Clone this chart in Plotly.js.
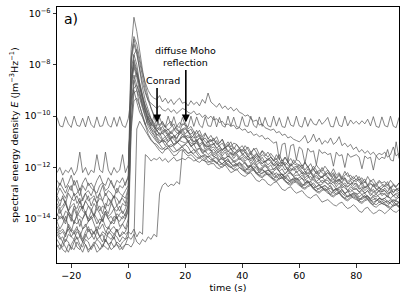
<!DOCTYPE html>
<html>
<head>
<meta charset="utf-8">
<script src="https://cdn.plot.ly/plotly-3.0.1.min.js"></script>
<style>html,body{margin:0;padding:0;background:#fff;}#chart{width:407px;height:299px;}</style>
</head>
<body>
<div id="chart"></div>
<script>
// time axis (s)
const time = [-25,-24,-23,-22,-21,-20,-19,-18,-17,-16,-15,-14,-13,-12,-11,-10,-9,-8,-7,-6,-5,-4,-3,-2,-1,
0,1,2,3,4,5,6,7,8,9,
10,11,12,13,14,15,16,17,18,19,
20,21,22,23,24,25,26,27,28,29,
30,31,32,33,34,35,36,37,38,39,
40,41,42,43,44,45,46,47,48,49,
50,51,52,53,54,55,56,57,58,59,
60,61,62,63,64,65,66,67,68,69,
70,71,72,73,74,75,76,77,78,79,
80,81,82,83,84,85,86,87,88,89,
90,91,92,93,94,95];

// log10 of spectral energy density E, one array per station
const logE_osc = [-10.05,-10.38,-10.42,-10.02,-10.30,-10.44,-10.00,-10.36,-10.40,-10.08,-10.42,-10.00,-10.33,-10.45,-10.03,-10.40,-10.38,-10.01,-10.35,-10.43,-10.05,-10.40,-10.02,-10.37,-10.44,
-10.10,-9.30,-9.00,-9.45,-9.85,-10.05,-10.35,-10.02,-10.38,-10.00,
-10.40,-10.05,-10.35,-10.42,-10.00,-10.38,-10.02,-10.40,-10.44,-10.05,
-10.36,-10.41,-10.00,-10.40,-10.03,-10.35,-10.45,-10.02,-10.38,-10.40,
-10.01,-10.42,-10.05,-10.37,-10.43,-10.00,-10.39,-10.04,-10.41,-10.44,
-10.02,-10.38,-10.40,-10.00,-10.36,-10.45,-10.03,-10.40,-10.05,-10.37,
-10.42,-10.00,-10.39,-10.06,-10.41,-10.44,-10.02,-10.35,-10.40,-10.00,
-10.38,-10.43,-10.04,-10.40,-10.10,-10.30,-10.35,-10.12,-10.32,-10.20,
-10.05,-10.40,-10.42,-10.02,-10.36,-10.41,-10.00,-10.38,-10.15,-10.30,
-10.20,-10.32,-10.18,-10.30,-10.12,-10.38,-10.02,-10.40,-10.44,-10.03,
-10.37,-10.42,-10.00,-10.39,-10.45,-10.05];

const logE_s01 = [-13.2,-13.5,-13.1,-13.4,-13.7,-13.3,-13.0,-13.4,-13.2,-13.6,-13.3,-13.1,-13.5,-13.2,-13.4,-13.0,-13.3,-13.6,-13.2,-13.4,-13.1,-13.5,-13.3,-13.2,-13.4,
-12.9,-7.4,-6.15,-6.7,-7.5,-8.2,-8.8,-9.3,-9.7,-10.0,
-10.2,-10.4,-10.25,-10.42,-10.55,-10.43,-10.3,-10.55,-10.6,-10.3,
-10.35,-10.6,-10.5,-10.75,-10.55,-10.8,-10.95,-10.7,-10.85,-11.0,
-10.85,-11.1,-11.05,-10.9,-11.2,-11.15,-11.0,-11.3,-11.1,-11.25,
-11.35,-11.15,-11.3,-11.5,-11.25,-11.45,-11.6,-11.35,-11.55,-11.4,
-11.6,-11.75,-11.5,-11.7,-11.85,-11.6,-11.8,-11.95,-11.7,-11.85,
-11.9,-12.05,-11.8,-12.0,-12.15,-11.95,-12.1,-12.25,-12.0,-12.2,
-12.1,-12.3,-12.2,-12.4,-12.25,-12.45,-12.3,-12.2,-12.45,-12.35,
-12.5,-12.35,-12.55,-12.45,-12.7,-12.5,-12.6,-12.75,-12.55,-12.65,
-12.7,-12.55,-12.8,-12.65,-12.75,-12.6];

const logE_s02 = [-12.9,-12.6,-12.8,-13.0,-12.7,-12.9,-12.5,-12.8,-13.1,-12.7,-12.9,-12.6,-12.8,-12.9,-13.0,-12.7,-12.6,-12.9,-12.8,-12.5,-12.8,-13.0,-12.7,-12.8,-12.6,
-12.4,-7.7,-6.9,-7.2,-7.8,-8.3,-8.7,-9.0,-9.2,-9.3,
-9.35,-9.2,-9.45,-9.3,-9.5,-9.35,-9.55,-9.4,-9.3,-9.5,
-9.45,-9.6,-9.4,-9.55,-9.45,-9.6,-9.35,-9.5,-9.1,-9.45,
-9.55,-9.65,-9.5,-9.7,-9.6,-9.75,-9.65,-9.8,-9.7,-9.85,
-9.9,-10.0,-9.95,-10.1,-10.2,-10.15,-10.35,-10.3,-10.45,-10.5,
-10.55,-10.5,-10.65,-10.6,-10.75,-10.7,-10.85,-10.8,-10.9,-10.95,
-11.0,-10.9,-10.75,-11.05,-10.95,-10.7,-11.0,-10.85,-11.1,-10.95,
-11.05,-10.85,-11.1,-11.0,-10.8,-11.15,-11.05,-11.2,-11.1,-11.3,
-11.2,-11.4,-11.3,-11.45,-11.35,-11.5,-11.4,-11.55,-11.45,-11.5,
-11.4,-11.6,-11.5,-11.2,-11.55,-11.45];

const logE_s03 = [-13.5,-13.8,-13.6,-13.4,-13.7,-13.9,-13.5,-13.6,-13.3,-13.7,-13.8,-13.5,-13.6,-13.9,-13.4,-13.7,-13.5,-13.6,-13.8,-13.4,-13.6,-13.7,-13.5,-13.8,-13.6,
-13.3,-7.9,-7.2,-7.6,-8.2,-8.7,-9.1,-9.4,-9.5,-9.6,
-9.7,-9.6,-9.75,-9.8,-9.7,-9.85,-9.75,-9.9,-9.8,-9.7,
-9.75,-9.85,-9.9,-9.8,-9.95,-9.9,-10.05,-9.95,-10.1,-10.0,
-10.15,-10.1,-10.25,-10.2,-10.35,-10.3,-10.4,-10.35,-10.5,-10.45,
-10.55,-10.5,-10.65,-10.6,-10.75,-10.7,-10.8,-10.75,-10.9,-10.85,
-10.95,-11.05,-11.0,-11.7,-11.1,-11.05,-11.8,-11.15,-11.1,-11.7,
-11.2,-11.3,-11.85,-11.25,-11.4,-11.35,-11.9,-11.3,-11.45,-11.4,
-11.5,-11.45,-11.95,-11.4,-11.55,-11.5,-12.0,-11.45,-11.6,-11.55,
-11.5,-11.6,-12.05,-11.55,-11.65,-11.6,-12.1,-11.55,-11.7,-11.6,
-11.65,-11.3,-11.7,-11.75,-11.0,-11.65];

const logE_s04 = [-13.9,-13.6,-14.0,-13.7,-13.8,-14.1,-13.6,-13.9,-13.7,-13.5,-13.8,-14.0,-13.7,-13.9,-13.6,-13.8,-14.1,-13.7,-13.9,-13.8,-13.6,-14.0,-13.8,-13.7,-13.9,
-13.4,-7.8,-7.0,-7.5,-8.3,-8.9,-9.4,-9.8,-10.1,-10.3,
-10.6,-10.45,-10.7,-10.55,-10.8,-10.6,-10.75,-10.9,-10.6,-10.5,
-10.7,-10.55,-10.85,-10.75,-11.0,-10.85,-10.95,-11.15,-10.95,-11.2,
-11.05,-11.25,-11.15,-11.35,-11.2,-11.4,-11.25,-11.5,-11.35,-11.3,
-11.5,-11.4,-11.6,-11.45,-11.7,-11.55,-11.75,-11.6,-11.8,-11.65,
-11.7,-11.9,-11.75,-11.95,-11.8,-11.9,-12.1,-11.85,-12.0,-12.1,
-12.0,-12.15,-12.25,-12.05,-12.2,-12.35,-12.15,-12.3,-12.4,-12.2,
-12.35,-12.5,-12.3,-12.55,-12.45,-12.6,-12.4,-12.65,-12.5,-12.7,
-12.6,-12.75,-12.55,-12.8,-12.7,-12.9,-12.65,-12.85,-12.75,-12.95,
-12.8,-12.95,-12.75,-13.0,-12.85,-12.9];

const logE_s05 = [-12.5,-12.7,-12.4,-12.8,-12.6,-12.3,-12.7,-12.5,-12.9,-12.6,-12.4,-12.7,-12.6,-12.8,-12.5,-12.3,-12.6,-12.7,-12.4,-12.6,-12.8,-12.5,-12.6,-12.4,-12.7,
-12.3,-9.0,-7.6,-7.4,-7.9,-8.5,-9.0,-9.4,-9.7,-9.95,
-10.1,-10.35,-10.2,-10.45,-10.3,-10.2,-10.5,-10.4,-10.25,-10.35,
-10.25,-10.5,-10.4,-10.6,-10.7,-10.55,-10.8,-10.65,-10.9,-10.75,
-10.95,-10.8,-11.05,-10.9,-11.15,-11.0,-11.2,-11.05,-11.1,-11.25,
-11.15,-11.35,-11.2,-11.4,-11.3,-11.25,-11.5,-11.35,-11.45,-11.6,
-11.45,-11.6,-11.7,-11.5,-11.75,-11.6,-11.8,-11.65,-11.85,-11.7,
-11.75,-11.95,-11.8,-12.0,-11.85,-12.1,-11.9,-12.05,-12.15,-11.95,
-12.1,-12.25,-12.05,-12.3,-12.2,-12.4,-12.15,-12.35,-12.3,-12.45,
-12.3,-12.5,-12.4,-12.6,-12.35,-12.55,-12.45,-12.65,-12.5,-12.6,
-12.55,-12.7,-12.5,-12.65,-12.75,-12.6];

const logE_s06 = [-14.1,-14.4,-14.2,-13.9,-14.3,-14.5,-14.1,-14.2,-14.0,-14.4,-14.3,-14.1,-13.9,-14.2,-14.5,-14.2,-14.0,-14.3,-14.4,-14.1,-14.2,-13.9,-14.3,-14.2,-14.0,
-13.6,-8.6,-7.8,-8.2,-8.8,-9.3,-9.7,-10.0,-10.2,-10.4,
-10.75,-10.65,-10.9,-10.8,-11.0,-10.85,-10.75,-11.0,-10.9,-10.7,
-10.8,-11.0,-10.9,-11.1,-10.95,-11.2,-11.05,-11.3,-11.15,-11.35,
-11.3,-11.45,-11.35,-11.55,-11.4,-11.6,-11.45,-11.65,-11.5,-11.7,
-11.6,-11.75,-11.65,-11.85,-11.7,-11.9,-11.8,-11.95,-11.85,-12.0,
-11.9,-12.1,-11.95,-12.15,-12.05,-12.25,-12.1,-12.2,-12.3,-12.15,
-12.3,-12.2,-12.4,-12.3,-12.5,-12.35,-12.55,-12.45,-12.6,-12.5,
-12.5,-12.65,-12.55,-12.75,-12.6,-12.8,-12.7,-12.9,-12.75,-12.85,
-12.8,-12.95,-12.85,-13.0,-12.9,-13.1,-12.95,-13.05,-12.9,-13.1,
-13.0,-13.15,-12.95,-13.1,-13.2,-13.05];

const logE_s07 = [-13.1,-12.8,-13.0,-13.2,-12.9,-12.7,-13.1,-13.0,-12.8,-13.3,-13.0,-12.9,-13.1,-12.8,-13.2,-13.0,-12.7,-13.1,-12.9,-13.0,-13.2,-12.8,-13.0,-13.1,-12.9,
-12.7,-8.8,-8.0,-8.4,-8.9,-9.3,-9.6,-9.9,-10.1,-10.25,
-10.45,-10.55,-10.4,-10.6,-10.5,-10.7,-10.55,-10.45,-10.65,-10.5,
-10.45,-10.65,-10.7,-10.6,-10.85,-10.75,-10.95,-10.85,-11.0,-10.9,
-11.1,-10.95,-11.15,-11.05,-11.25,-11.1,-11.3,-11.2,-11.35,-11.25,
-11.4,-11.3,-11.5,-11.4,-11.55,-11.45,-11.65,-11.5,-11.6,-11.7,
-11.6,-11.75,-11.65,-11.85,-11.7,-11.9,-11.8,-11.95,-11.85,-11.9,
-12.0,-11.9,-12.1,-11.95,-12.15,-12.05,-12.25,-12.1,-12.2,-12.3,
-12.2,-12.35,-12.25,-12.45,-12.3,-12.5,-12.4,-12.55,-12.45,-12.5,
-12.55,-12.45,-12.65,-12.55,-12.7,-12.6,-12.75,-12.65,-12.8,-12.7,
-12.75,-12.65,-12.85,-12.7,-12.8,-12.9];

const logE_s08 = [-14.5,-14.7,-14.9,-14.6,-14.4,-14.7,-14.8,-14.5,-14.6,-14.9,-14.7,-14.4,-14.6,-14.8,-14.5,-14.7,-14.6,-14.9,-14.5,-14.6,-14.8,-14.4,-14.7,-14.6,-14.5,
-14.2,-10.5,-8.6,-8.3,-8.7,-9.3,-9.8,-10.2,-10.5,-10.7,
-10.85,-11.05,-10.95,-11.15,-11.0,-10.9,-11.15,-11.05,-10.95,-11.0,
-11.05,-10.95,-11.2,-11.1,-11.3,-11.25,-11.45,-11.35,-11.5,-11.4,
-11.6,-11.5,-11.7,-11.6,-11.75,-11.65,-11.85,-11.75,-11.9,-11.8,
-11.9,-11.8,-12.0,-11.9,-12.05,-11.95,-12.15,-12.05,-12.2,-12.1,
-12.15,-12.3,-12.2,-12.35,-12.25,-12.45,-12.3,-12.5,-12.4,-12.45,
-12.5,-12.4,-12.6,-12.5,-12.7,-12.6,-12.75,-12.65,-12.8,-12.7,
-12.8,-12.7,-12.9,-12.8,-12.95,-12.85,-13.05,-12.9,-13.1,-13.0,
-13.0,-13.15,-13.05,-13.2,-13.1,-13.25,-13.15,-13.3,-13.2,-13.25,
-13.2,-13.35,-13.25,-13.4,-13.3,-13.35];

const logE_s09 = [-13.4,-13.6,-13.5,-13.3,-13.7,-13.5,-13.4,-13.8,-13.5,-13.6,-13.3,-13.5,-13.7,-13.4,-13.6,-13.5,-13.8,-13.4,-13.5,-13.3,-13.6,-13.5,-13.7,-13.4,-13.5,
-13.1,-8.2,-7.6,-8.0,-8.7,-9.2,-9.6,-9.9,-10.15,-10.35,
-10.55,-10.75,-10.65,-10.8,-10.7,-10.9,-10.75,-10.85,-10.7,-10.6,
-10.75,-10.85,-10.8,-11.0,-10.9,-11.1,-11.0,-11.2,-11.1,-11.25,
-11.2,-11.35,-11.25,-11.45,-11.3,-11.5,-11.4,-11.55,-11.45,-11.6,
-11.5,-11.65,-11.55,-11.75,-11.6,-11.8,-11.7,-11.85,-11.75,-11.9,
-11.8,-11.95,-11.85,-12.05,-11.9,-12.1,-12.0,-12.15,-12.05,-12.2,
-12.1,-12.25,-12.15,-12.35,-12.2,-12.4,-12.3,-12.45,-12.35,-12.5,
-12.4,-12.55,-12.45,-12.65,-12.5,-12.7,-12.6,-12.75,-12.65,-12.8,
-12.7,-12.85,-12.75,-12.9,-12.8,-12.95,-12.85,-13.0,-12.9,-12.95,
-12.9,-13.05,-12.95,-13.1,-13.0,-13.05];

const logE_s10 = [-14.8,-15.0,-15.1,-14.8,-14.9,-15.2,-14.9,-14.7,-15.0,-15.1,-14.8,-14.9,-15.2,-15.0,-14.8,-14.9,-15.1,-14.8,-15.0,-14.9,-14.7,-15.0,-15.1,-14.9,-14.8,
-14.5,-9.4,-8.6,-9.0,-9.6,-10.0,-10.3,-10.55,-10.7,-10.85,
-11.0,-11.1,-11.25,-11.3,-11.2,-11.1,-11.2,-11.35,-11.3,-11.15,
-11.1,-11.2,-11.4,-11.45,-11.35,-11.5,-11.6,-11.7,-11.55,-11.6,
-11.75,-11.85,-11.7,-11.65,-11.8,-11.95,-12.0,-11.9,-11.85,-12.0,
-12.1,-12.15,-12.0,-11.95,-12.1,-12.25,-12.3,-12.2,-12.15,-12.3,
-12.4,-12.45,-12.3,-12.25,-12.4,-12.55,-12.6,-12.5,-12.45,-12.6,
-12.7,-12.75,-12.6,-12.55,-12.7,-12.85,-12.9,-12.8,-12.75,-12.9,
-13.0,-13.05,-12.9,-12.85,-13.0,-13.15,-13.2,-13.1,-13.05,-13.2,
-13.25,-13.3,-13.15,-13.1,-13.25,-13.4,-13.45,-13.3,-13.25,-13.4,
-13.45,-13.5,-13.35,-13.3,-13.45,-13.55];

const logE_s11 = [-12.2,-12.0,-12.3,-12.1,-12.2,-12.0,-12.3,-12.1,-11.4,-12.2,-12.0,-12.3,-12.1,-12.2,-11.5,-12.1,-12.2,-11.4,-12.1,-12.3,-12.0,-12.2,-12.1,-11.5,-12.2,
-11.9,-9.6,-8.9,-8.8,-9.1,-9.5,-9.8,-10.1,-10.3,-10.4,
-10.5,-10.4,-10.55,-10.65,-10.7,-10.6,-10.5,-10.65,-10.7,-10.55,
-10.5,-10.6,-10.75,-10.85,-10.8,-10.7,-10.85,-11.0,-11.05,-10.95,
-10.95,-11.05,-11.2,-11.3,-11.25,-11.15,-11.25,-11.4,-11.45,-11.35,
-11.3,-11.4,-11.55,-11.65,-11.6,-11.5,-11.6,-11.75,-11.8,-11.7,
-11.6,-11.7,-11.85,-11.95,-11.9,-11.8,-11.9,-12.05,-12.1,-12.0,
-11.9,-12.0,-12.15,-12.25,-12.2,-12.1,-12.2,-12.35,-12.4,-12.3,
-12.2,-12.3,-12.45,-12.55,-12.5,-12.4,-12.5,-12.6,-12.65,-12.55,
-12.45,-12.55,-12.7,-12.8,-12.75,-12.65,-12.7,-12.85,-12.9,-12.8,
-12.7,-12.8,-12.9,-12.95,-12.85,-12.8];

const logE_s12 = [-13.8,-14.0,-13.9,-14.1,-13.7,-13.9,-14.2,-13.8,-13.9,-14.0,-13.7,-14.1,-13.9,-13.8,-14.0,-14.2,-13.9,-13.7,-14.0,-13.9,-14.1,-13.8,-13.9,-14.0,-13.8,
-13.5,-8.8,-8.1,-8.5,-9.1,-9.6,-9.9,-10.2,-10.4,-10.55,
-10.8,-10.95,-11.0,-10.9,-10.8,-10.95,-11.1,-11.05,-10.9,-10.8,
-10.85,-11.0,-11.15,-11.1,-11.05,-11.2,-11.35,-11.4,-11.3,-11.35,
-11.5,-11.45,-11.55,-11.7,-11.65,-11.55,-11.65,-11.8,-11.75,-11.65,
-11.75,-11.85,-12.0,-11.95,-11.85,-11.95,-12.1,-12.05,-11.95,-12.05,
-12.2,-12.15,-12.05,-12.15,-12.3,-12.35,-12.25,-12.2,-12.35,-12.45,
-12.4,-12.3,-12.45,-12.6,-12.55,-12.45,-12.55,-12.7,-12.65,-12.55,
-12.65,-12.75,-12.9,-12.85,-12.75,-12.85,-13.0,-12.95,-12.85,-12.95,
-13.05,-13.0,-12.9,-13.0,-13.15,-13.2,-13.1,-13.05,-13.15,-13.25,
-13.2,-13.1,-13.2,-13.3,-13.25,-13.15];

const logE_s13 = [-14.3,-14.5,-14.4,-14.6,-14.2,-14.4,-14.5,-14.3,-14.7,-14.4,-14.2,-14.5,-14.4,-14.6,-14.3,-14.4,-14.2,-14.5,-14.6,-14.4,-14.3,-14.5,-14.4,-14.2,-14.4,
-14.0,-10.2,-9.1,-9.0,-9.3,-9.7,-10.1,-10.4,-10.6,-10.75,
-10.95,-11.05,-10.9,-11.0,-11.15,-11.2,-11.1,-11.0,-11.1,-11.2,
-11.1,-11.0,-11.15,-11.3,-11.35,-11.25,-11.4,-11.55,-11.6,-11.5,
-11.55,-11.65,-11.8,-11.85,-11.75,-11.7,-11.85,-11.95,-11.9,-11.8,
-11.9,-12.0,-12.1,-12.05,-11.95,-12.05,-12.2,-12.25,-12.15,-12.1,
-12.2,-12.35,-12.4,-12.3,-12.25,-12.4,-12.5,-12.55,-12.45,-12.4,
-12.5,-12.65,-12.7,-12.6,-12.55,-12.7,-12.8,-12.85,-12.75,-12.7,
-12.8,-12.95,-13.0,-12.9,-12.85,-13.0,-13.1,-13.15,-13.05,-13.0,
-13.1,-13.2,-13.25,-13.15,-13.1,-13.25,-13.35,-13.3,-13.2,-13.25,
-13.3,-13.4,-13.35,-13.25,-13.3,-13.4];

const logE_s14 = [-13.1,-13.3,-13.2,-13.4,-13.0,-13.2,-13.3,-13.1,-13.4,-13.2,-13.0,-13.3,-13.2,-13.1,-13.4,-13.2,-13.3,-13.0,-13.2,-13.3,-13.1,-13.2,-13.4,-13.1,-13.2,
-12.8,-8.5,-7.9,-8.3,-8.9,-9.4,-9.8,-10.1,-10.3,-10.45,
-10.55,-10.7,-10.6,-10.5,-10.65,-10.8,-10.85,-10.7,-10.6,-10.7,
-10.8,-10.75,-10.9,-11.0,-10.95,-10.85,-11.0,-11.15,-11.2,-11.1,
-11.1,-11.25,-11.35,-11.3,-11.2,-11.35,-11.45,-11.5,-11.4,-11.35,
-11.45,-11.55,-11.7,-11.65,-11.55,-11.65,-11.8,-11.85,-11.75,-11.7,
-11.75,-11.9,-11.95,-11.85,-11.8,-11.95,-12.1,-12.1,-12.0,-11.95,
-12.1,-12.2,-12.3,-12.2,-12.15,-12.3,-12.4,-12.45,-12.35,-12.3,
-12.4,-12.5,-12.6,-12.5,-12.45,-12.6,-12.7,-12.75,-12.65,-12.6,
-12.65,-12.8,-12.85,-12.75,-12.7,-12.85,-12.95,-12.9,-12.8,-12.85,
-12.9,-13.0,-12.95,-12.85,-12.9,-13.0];

const logE_s15 = [-15.0,-15.2,-14.9,-15.1,-15.3,-15.0,-14.8,-15.1,-15.2,-14.9,-15.0,-15.3,-15.1,-14.9,-15.0,-15.2,-15.1,-14.8,-15.0,-15.2,-15.1,-14.9,-15.0,-15.2,-15.0,
-14.7,-10.6,-9.4,-9.3,-9.6,-10.0,-10.4,-10.7,-10.9,-11.05,
-11.2,-11.35,-11.45,-11.3,-11.25,-11.4,-11.55,-11.5,-11.35,-11.3,
-11.45,-11.55,-11.5,-11.6,-11.75,-11.8,-11.7,-11.75,-11.9,-11.85,
-11.85,-12.0,-12.05,-11.95,-11.9,-12.05,-12.2,-12.15,-12.05,-12.2,
-12.3,-12.35,-12.25,-12.2,-12.35,-12.5,-12.55,-12.45,-12.5,-12.65,
-12.7,-12.6,-12.55,-12.7,-12.85,-12.9,-12.8,-12.75,-12.9,-13.0,
-12.95,-12.9,-13.05,-13.15,-13.2,-13.1,-13.05,-13.2,-13.35,-13.3,
-13.25,-13.35,-13.45,-13.5,-13.4,-13.35,-13.5,-13.6,-13.55,-13.45,
-13.55,-13.7,-13.75,-13.6,-13.55,-13.7,-13.8,-13.75,-13.65,-13.7,
-13.8,-13.7,-13.6,-13.7,-13.75,-13.65];

const logE_s16 = [-14.1,-13.9,-14.0,-14.2,-13.8,-14.0,-14.1,-13.9,-14.3,-14.0,-13.8,-14.1,-14.0,-13.9,-14.2,-14.0,-14.1,-13.8,-14.0,-14.2,-13.9,-14.0,-14.1,-13.9,-14.0,
-13.7,-9.0,-8.4,-8.8,-9.3,-9.7,-10.0,-10.3,-10.5,-10.6,
-10.7,-10.8,-10.95,-11.0,-10.9,-10.8,-10.9,-11.05,-10.95,-10.8,
-10.8,-10.95,-11.05,-11.1,-11.0,-11.15,-11.3,-11.35,-11.25,-11.3,
-11.45,-11.35,-11.45,-11.6,-11.65,-11.55,-11.6,-11.75,-11.7,-11.6,
-11.7,-11.8,-11.95,-11.9,-11.8,-11.9,-12.05,-12.0,-11.9,-12.0,
-12.1,-12.05,-12.0,-12.15,-12.3,-12.25,-12.15,-12.25,-12.35,-12.3,
-12.3,-12.45,-12.5,-12.4,-12.35,-12.5,-12.6,-12.6,-12.5,-12.55,
-12.65,-12.6,-12.7,-12.85,-12.8,-12.7,-12.8,-12.9,-12.95,-12.85,
-12.85,-12.95,-13.05,-13.0,-12.9,-13.0,-13.1,-13.15,-13.05,-13.0,
-13.05,-13.15,-13.2,-13.1,-13.05,-13.2];

const logE_s17 = [-14.4,-14.6,-14.5,-14.7,-14.3,-14.5,-14.6,-14.4,-14.5,-14.8,-14.5,-14.3,-14.6,-14.5,-14.4,-14.7,-14.5,-14.6,-14.3,-14.5,-14.6,-14.4,-14.7,-14.5,-14.6,
-14.5,-14.6,-14.4,-14.7,-14.5,-14.6,-11.5,-11.6,-11.75,-11.65,
-11.7,-11.6,-11.75,-11.65,-11.8,-11.7,-11.6,-11.75,-11.7,-11.65,
-11.7,-11.6,-11.65,-11.75,-11.7,-11.6,-11.7,-11.75,-11.8,-11.75,
-11.7,-11.8,-11.9,-11.85,-11.75,-11.9,-12.0,-12.05,-11.95,-11.9,
-12.0,-12.15,-12.2,-12.1,-12.05,-12.2,-12.3,-12.35,-12.25,-12.2,
-12.3,-12.45,-12.5,-12.4,-12.35,-12.5,-12.6,-12.65,-12.55,-12.5,
-12.6,-12.75,-12.8,-12.7,-12.65,-12.8,-12.9,-12.95,-12.85,-12.8,
-12.9,-13.05,-13.1,-13.0,-12.95,-13.1,-13.2,-13.25,-13.15,-13.1,
-13.15,-13.3,-13.35,-13.25,-13.2,-13.3,-13.4,-13.45,-13.35,-13.3,
-13.4,-13.5,-13.55,-13.45,-13.4,-13.5];

const logE_s18 = [-14.6,-14.8,-14.7,-14.9,-14.6,-14.7,-14.5,-14.8,-14.7,-14.9,-14.6,-14.8,-14.7,-14.5,-14.8,-14.7,-14.9,-14.6,-14.7,-14.8,-14.6,-14.7,-14.9,-14.7,-14.8,
-14.7,-14.8,-14.6,-14.9,-15.0,-14.8,-14.9,-14.7,-14.8,-14.6,
-14.7,-13.0,-12.7,-12.6,-12.75,-12.65,-12.7,-12.55,-12.65,-11.35,
-11.3,-11.45,-11.4,-11.3,-11.45,-11.6,-11.55,-11.5,-11.6,-11.7,
-11.65,-11.6,-11.75,-11.9,-11.85,-11.75,-11.85,-11.95,-11.9,-11.85,
-11.95,-12.1,-12.05,-11.95,-12.05,-12.2,-12.2,-12.1,-12.15,-12.3,
-12.25,-12.2,-12.35,-12.45,-12.4,-12.35,-12.45,-12.6,-12.5,-12.45,
-12.55,-12.7,-12.65,-12.55,-12.65,-12.8,-12.75,-12.7,-12.8,-12.9,
-12.85,-12.8,-12.95,-13.05,-13.0,-12.9,-13.0,-13.15,-13.1,-13.05,
-13.1,-13.25,-13.2,-13.1,-13.2,-13.3,-13.25,-13.2,-13.35,-13.4,
-13.35,-13.3,-13.4,-13.5,-13.45,-13.35];

const logE_s19 = [-15.1,-15.0,-15.2,-15.3,-15.0,-15.1,-15.2,-14.9,-15.1,-15.3,-15.0,-15.2,-15.1,-15.0,-15.3,-15.2,-15.0,-15.1,-15.2,-14.9,-15.1,-15.0,-15.2,-15.1,-15.0,
-15.0,-15.1,-14.9,-10.5,-10.2,-10.4,-10.6,-10.8,-10.95,-11.05,
-11.1,-11.25,-11.3,-11.2,-11.15,-11.3,-11.4,-11.35,-11.25,-11.2,
-11.35,-11.45,-11.4,-11.5,-11.6,-11.65,-11.55,-11.6,-11.75,-11.8,
-11.75,-11.8,-11.95,-12.0,-11.9,-11.85,-11.95,-12.1,-12.1,-12.0,
-12.05,-12.2,-12.25,-12.15,-12.1,-12.25,-12.35,-12.4,-12.3,-12.25,
-12.35,-12.5,-12.55,-12.45,-12.4,-12.5,-12.65,-12.7,-12.6,-12.55,
-12.65,-12.8,-12.85,-12.75,-12.7,-12.8,-12.95,-13.0,-12.9,-12.85,
-12.95,-13.1,-13.15,-13.05,-13.0,-13.1,-13.25,-13.3,-13.2,-13.15,
-13.2,-13.35,-13.4,-13.3,-13.25,-13.35,-13.5,-13.55,-13.45,-13.4,
-13.45,-13.55,-13.6,-13.5,-13.45,-13.55];

const stations = [logE_osc, logE_s01, logE_s02, logE_s03, logE_s04, logE_s05, logE_s06, logE_s07,
  logE_s08, logE_s09, logE_s10, logE_s11, logE_s12, logE_s13, logE_s14, logE_s15, logE_s16,
  logE_s17, logE_s18, logE_s19];

// tick labels
const xTicks = [-20, 0, 20, 40, 60, 80];
const yTickVals = [1e-14, 1e-12, 1e-10, 1e-8, 1e-6];
const yTickText = ['10<sup>\u221214</sup>', '10<sup>\u221212</sup>', '10<sup>\u221210</sup>', '10<sup>\u22128</sup>', '10<sup>\u22126</sup>'];

const traces = stations.map(function (s) {
  return {
    x: time,
    y: s.map(function (v) { return Math.pow(10, v); }),
    type: 'scatter', mode: 'lines',
    line: {color: 'rgba(85,85,85,0.8)', width: 0.9},
    hoverinfo: 'skip', showlegend: false
  };
});

const F = 'DejaVu Sans, sans-serif';
const layout = {
  width: 407, height: 299,
  margin: {l: 57, r: 8, t: 7, b: 36},
  paper_bgcolor: '#fff', plot_bgcolor: '#fff',
  font: {family: F, size: 9.5, color: '#000'},
  showlegend: false,
  xaxis: {
    range: [-25, 95], tickvals: xTicks, ticktext: xTicks.map(function (v) { return v < 0 ? '\u2212' + Math.abs(v) : String(v); }),
    showgrid: false, zeroline: false, showline: true, mirror: true, linecolor: '#000', linewidth: 1,
    ticks: 'outside', ticklen: 3.5, tickwidth: 0.8, tickcolor: '#000',
    title: {text: 'time (s)', font: {size: 9.5}, standoff: 4}
  },
  yaxis: {
    type: 'log', range: [-15.72, -5.75], tickvals: yTickVals, ticktext: yTickText,
    showgrid: false, zeroline: false, showline: true, mirror: true, linecolor: '#000', linewidth: 1,
    ticks: 'outside', ticklen: 3.5, tickwidth: 0.8, tickcolor: '#000',
    title: {text: 'spectral energy density <i>E</i> (Jm<sup>\u22123</sup>Hz<sup>\u22121</sup>)', font: {size: 9.5}, standoff: 4}
  },
  annotations: [
    {x: -23.2, y: -6.21, xref: 'x', yref: 'y', text: 'a)', showarrow: false, xanchor: 'left', yanchor: 'middle', font: {size: 14}},
    {x: 12.2, y: -8.6, xref: 'x', yref: 'y', text: 'Conrad', showarrow: false, xanchor: 'center', yanchor: 'middle', font: {size: 9.5}},
    {x: 20.1, y: -7.67, xref: 'x', yref: 'y', text: 'diffuse Moho<br>reflection', showarrow: false, xanchor: 'center', yanchor: 'middle', font: {size: 9.5}},
    {x: 10.1, y: -10.25, xref: 'x', yref: 'y', text: '', showarrow: true, ax: 0, ay: -36, arrowhead: 2, arrowsize: 1, arrowwidth: 1.6, arrowcolor: '#000'},
    {x: 20.2, y: -10.25, xref: 'x', yref: 'y', text: '', showarrow: true, ax: 0, ay: -54, arrowhead: 2, arrowsize: 1, arrowwidth: 1.6, arrowcolor: '#000'}
  ]
};

Plotly.newPlot('chart', traces, layout, {displayModeBar: false, staticPlot: true});
</script>
</body>
</html>
